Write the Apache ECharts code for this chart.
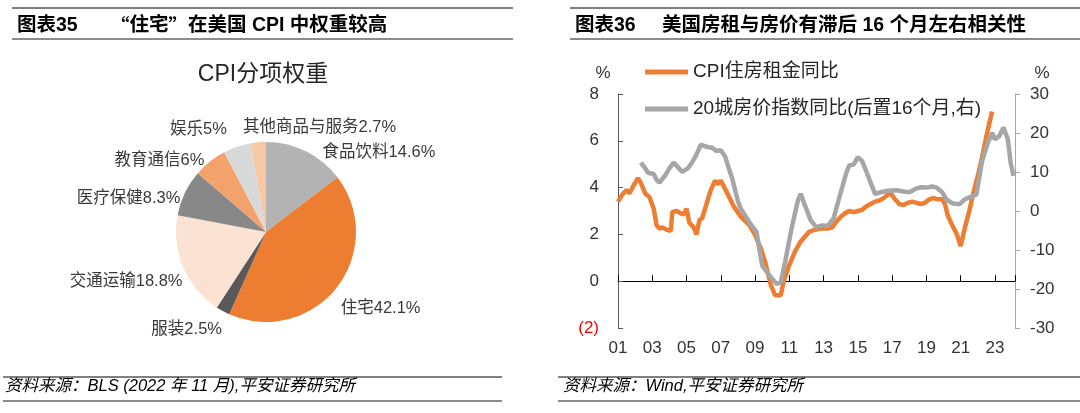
<!DOCTYPE html>
<html><head><meta charset="utf-8">
<script src="https://cdn.jsdelivr.net/npm/echarts@6/dist/echarts.min.js"></script>
<style>html,body{margin:0;padding:0;background:#fff}#c{width:1080px;height:413px}</style>
</head><body><div id="c"></div>
<script>
// ---------- data ----------
const pieNames  = ['食品饮料','住宅','服装','交通运输','医疗保健','教育通信','娱乐','其他商品与服务'];
const pieValues = [14.6, 42.1, 2.5, 18.8, 8.3, 6, 5, 2.7];

const rentDates = ['2001-01','2001-04','2001-07','2001-09','2001-12','2002-03','2002-05','2002-08','2002-11','2003-02','2003-04','2003-06','2003-08','2003-11','2004-02','2004-03','2004-06','2004-09','2004-11','2005-01','2005-03','2005-06','2005-08','2005-10','2005-12','2006-03','2006-06','2006-09','2006-11','2007-01','2007-06','2007-10','2008-03','2008-09','2009-01','2009-05','2009-08','2009-12','2010-03','2010-07','2010-09','2011-01','2011-05','2011-09','2012-03','2012-07','2012-12','2013-04','2013-07','2013-10','2014-01','2014-04','2014-07','2014-10','2015-01','2015-04','2015-07','2015-10','2016-01','2016-04','2016-07','2016-10','2016-12','2017-03','2017-06','2017-09','2017-12','2018-03','2018-06','2018-09','2018-12','2019-03','2019-06','2019-09','2019-12','2020-02','2020-04','2020-07','2020-10','2021-01','2021-04','2021-07','2021-10','2022-01','2022-04','2022-07','2022-11'];
const rentValues = [3.4,3.7,3.9,3.75,4.1,4.4,4.2,3.75,3.6,3.1,2.4,2.25,2.3,2.2,2.15,2.95,3.0,2.9,2.85,3.1,2.5,2.3,2.0,2.6,2.7,3.3,3.9,4.3,4.15,4.3,3.7,3.2,2.76,2.4,1.98,1.4,0.84,-0.16,-0.6,-0.6,0.0,0.7,1.27,1.7,2.12,2.2,2.26,2.25,2.3,2.55,2.75,2.9,3.0,2.95,3.0,3.05,3.2,3.3,3.4,3.45,3.55,3.7,3.75,3.5,3.3,3.25,3.35,3.4,3.35,3.3,3.35,3.5,3.55,3.5,3.5,3.3,2.8,2.4,2.05,1.5,2.3,3.0,3.8,4.5,5.3,6.2,7.25];

const hpiDates = ['2002-05','2002-08','2002-10','2003-02','2003-04','2003-06','2003-10','2004-01','2004-04','2004-07','2004-10','2005-02','2005-05','2005-08','2005-11','2006-02','2006-04','2006-07','2006-10','2007-01','2007-04','2007-07','2007-09','2008-01','2008-03','2008-09','2009-02','2009-06','2009-11','2010-04','2010-07','2010-10','2011-03','2011-07','2011-09','2011-11','2012-04','2012-08','2012-12','2013-04','2013-08','2014-01','2014-05','2014-07','2014-10','2015-01','2015-04','2015-08','2016-01','2016-05','2016-10','2017-04','2017-09','2018-01','2018-05','2018-09','2019-01','2019-05','2019-08','2019-12','2020-03','2020-07','2020-12','2021-04','2021-09','2021-12','2022-01','2022-03','2022-04','2022-08','2022-11','2023-01','2023-04','2023-07','2023-10','2023-12','2024-02'];
const hpiValues = [12.4,11.0,9.8,9.5,8.0,7.3,9.1,11.0,12.4,11.2,10.0,11.0,12.5,14.5,17.0,16.6,16.4,16.2,15.4,15.6,14.0,10.5,8.3,2.5,0.6,-2.9,-5.4,-14.0,-16.5,-18.7,-18.3,-13.1,-3.7,2.7,4.4,2.3,-2.4,-4.2,-3.7,-3.8,-1.9,4.8,9.9,11.7,11.9,13.8,12.8,9.1,4.4,4.8,5.2,5.3,5.0,4.8,5.6,6.1,6.0,6.3,6.0,4.8,3.0,2.0,1.7,3.0,3.8,4.2,6.4,10.7,12.8,17.5,20.0,18.4,19.2,21.4,18.4,12.4,9.0];

const leftTicks = [-2, 0, 2, 4, 6, 8];
const rightTicks = [-30, -20, -10, 0, 10, 20, 30];
const xYearStart = 2001, xYearEnd = 2024.17, xYearStep = 2;

const seriesNames = ['CPI住房租金同比', '20城房价指数同比(后置16个月,右)'];

// ---------- style ----------
const pieColors = ['#B3B3B3','#ED7D31','#595959','#FBE3D4','#888888','#F3A26B','#D9D9D9','#F8C7A4'];
// per-label nudges (pixels) for the pie's outside labels
const pieLabelNudge = [
  {dx:10, dy:5}, {dx:-4, dy:18}, {dx:6, dy:15}, {dx:8, dy:13},
  {dx:4, dy:7}, {dx:2, dy:2}, {dx:-4, dy:-14}, {dx:-10, dy:-11, align:'left'}
];
const ORANGE = '#ED7D31', GRAY = '#A6A6A6';
const FONT = "'Liberation Sans', 'Noto Sans CJK SC', sans-serif";

function toYear(d){ const p = d.split('-').map(Number); return p[0] + (p[1]-1)/12; }
const rentData = rentDates.map((d,i)=>[toYear(d), rentValues[i]]);
const hpiData = hpiDates.map((d,i)=>[toYear(d), hpiValues[i]]);

const chart = echarts.init(document.getElementById('c'), null, {renderer:'canvas'});

function hline(x1,x2,y,color,w){
  return {type:'line', silent:true, shape:{x1:x1,y1:y,x2:x2,y2:y}, style:{stroke:color, lineWidth:w}};
}
function txt(x,y,text,opt){
  return {type:'text', silent:true, x:x, y:y, style:Object.assign({text:text, fill:'#000', font:'16px '+FONT, textVerticalAlign:'middle'}, opt||{})};
}

const option = {
  animation:false,
  backgroundColor:'#fff',
  textStyle:{fontFamily:FONT},
  grid:[{left:618, right:65, top:94, bottom:85, containLabel:false}],
  legend:{
    orient:'vertical', left:645, top:62, padding:0, itemWidth:43, itemHeight:5, itemGap:17,
    icon:'rect', data:seriesNames,
    textStyle:{fontSize:19, color:'#262626', fontFamily:FONT, lineHeight:20}
  },
  xAxis:[
    {type:'value', gridIndex:0, min:xYearStart, max:xYearEnd, interval:xYearStep,
     axisLine:{show:true, onZero:true, lineStyle:{color:'#000', width:1}},
     axisTick:{show:true, inside:true, length:6, lineStyle:{color:'#000'}},
     axisLabel:{show:false}, splitLine:{show:false}},
    {type:'value', gridIndex:0, position:'bottom', min:xYearStart, max:xYearEnd, interval:xYearStep,
     axisLine:{show:false, onZero:false}, axisTick:{show:false}, splitLine:{show:false},
     axisLabel:{show:true, fontSize:17, color:'#333', margin:12, showMaxLabel:false,
       formatter:function(v){ return Math.abs(v-Math.round(v))<1e-6 ? String(Math.round(v)).slice(2) : ''; }}}
  ],
  yAxis:[
    {type:'value', gridIndex:0, position:'left', min:leftTicks[0], max:leftTicks[leftTicks.length-1], interval:2,
     axisLine:{show:true, lineStyle:{color:'#595959'}},
     axisTick:{show:true, inside:true, length:5, lineStyle:{color:'#595959'}},
     splitLine:{show:false},
     axisLabel:{fontSize:17, color:'#333', margin:19,
       formatter:function(v){ return v<0 ? '{r|('+(-v)+')}' : String(v); },
       rich:{r:{color:'#FF0000', fontSize:17, fontFamily:FONT}}}},
    {type:'value', gridIndex:0, position:'right', min:rightTicks[0], max:rightTicks[rightTicks.length-1], interval:10,
     axisLine:{show:true, lineStyle:{color:'#A6A6A6'}},
     axisTick:{show:true, inside:false, length:5, lineStyle:{color:'#A6A6A6'}},
     splitLine:{show:false},
     axisLabel:{fontSize:17, color:'#333', margin:15}}
  ],
  series:[
    {name:seriesNames[0], type:'line', xAxisIndex:0, yAxisIndex:0, data:rentData, showSymbol:false, symbol:'none',
     lineStyle:{color:ORANGE, width:4.5}, itemStyle:{color:ORANGE}, z:2},
    {name:seriesNames[1], type:'line', xAxisIndex:0, yAxisIndex:1, data:hpiData, showSymbol:false, symbol:'none',
     lineStyle:{color:GRAY, width:4.5}, itemStyle:{color:GRAY}, z:3},
    {name:'CPI分项权重', type:'pie', center:[266,232], radius:90, startAngle:90, clockwise:true,
     avoidLabelOverlap:false,
     data:pieNames.map((n,i)=>({name:n, value:pieValues[i], itemStyle:{color:pieColors[i]}})),
     label:{show:true, position:'outside', formatter:'{b}{c}%', fontSize:16.5, color:'#3A3A3A', fontFamily:FONT},
     labelLine:{show:false, length:4, length2:0},
     labelLayout:function(p){ return pieLabelNudge[p.dataIndex]; },
     emphasis:{disabled:true}, silent:true}
  ],
  graphic:[
    hline(12,513,8,'#000',1), hline(12,513,39,'#8C8C8C',2),
    hline(570,1080,8,'#000',1), hline(570,1080,39,'#8C8C8C',2),
    hline(3,502,377,'#000',1), hline(3,502,401,'#8C8C8C',2),
    hline(558,1080,377,'#000',1), hline(558,1080,401,'#8C8C8C',2),
    txt(17,26,'图表35',{font:'bold 19.5px '+FONT}),
    txt(110,26,'{q|“}住宅{q|”}在美国 CPI 中权重较高',{font:'bold 19.5px '+FONT, rich:{q:{fontFamily:"'Noto Sans CJK SC'", fontWeight:'bold', fontSize:19.5}}}),
    txt(575,26,'图表36',{font:'bold 19.5px '+FONT}),
    txt(662,26,'美国房租与房价有滞后 16 个月左右相关性',{font:'bold 19.5px '+FONT}),
    txt(5,386,'资料来源：BLS (2022 年 11 月),平安证券研究所',{font:'italic 16.5px '+FONT}),
    txt(563,386,'资料来源：Wind,平安证券研究所',{font:'italic 16.5px '+FONT}),
    txt(263,75,'CPI分项权重',{font:'23px '+FONT, fill:'#262626', textAlign:'center'}),
    txt(603,73,'%',{font:'17px '+FONT, fill:'#333', textAlign:'center'}),
    txt(1042,73,'%',{font:'17px '+FONT, fill:'#333', textAlign:'center'})
  ]
};
chart.setOption(option);
</script>
</body></html>
